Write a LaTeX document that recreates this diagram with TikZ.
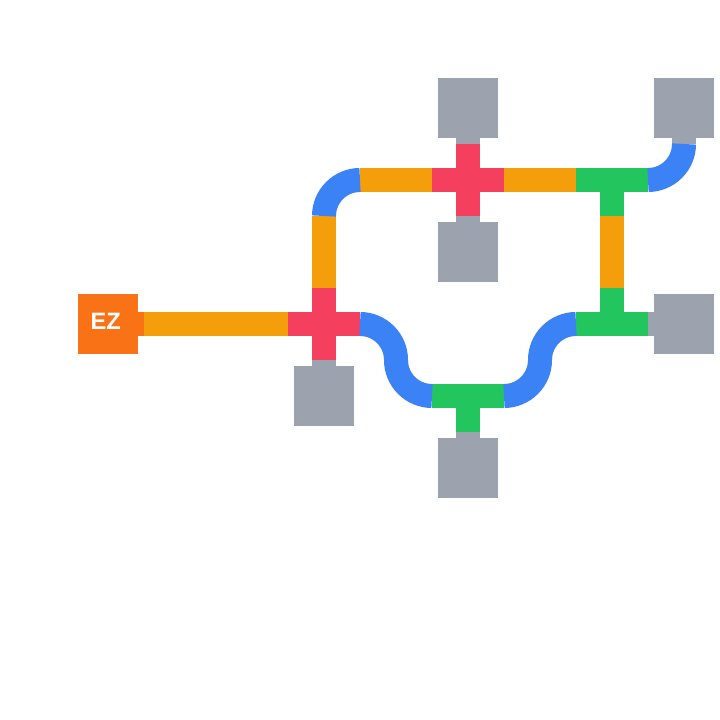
\documentclass[tikz,border=0pt]{standalone}
\usepackage{fontspec}
\newfontfamily\ezfont{Liberation Sans}
\definecolor{pipeor}{HTML}{F59E0B}
\definecolor{pipered}{HTML}{F43F5E}
\definecolor{pipeblue}{HTML}{3B82F6}
\definecolor{pipegreen}{HTML}{22C55E}
\definecolor{tilegrey}{HTML}{9CA3AF}
\definecolor{srcor}{HTML}{F97316}
\begin{document}
\begin{tikzpicture}[x=1pt,y=1pt,
  pipe/.style={line width=24pt,line cap=butt},
  op/.style={pipe,draw=pipeor},
  rp/.style={pipe,draw=pipered},
  bp/.style={pipe,draw=pipeblue},
  gp/.style={pipe,draw=pipegreen},
  sink/.style={fill=tilegrey,draw=none,minimum size=60pt,inner sep=0pt,outer sep=0pt},
  stub/.style={line width=24pt,line cap=butt,draw=tilegrey},
  src/.style={fill=srcor,draw=none,minimum size=60pt,inner sep=0pt,outer sep=0pt},
  srclabel/.style={text=white,inner sep=0pt,font=\ezfont\fontsize{23.7}{26}\selectfont\bfseries}]
\useasboundingbox (0,0) rectangle (720,720);
\fill[white] (0,0) rectangle (720,720);
% source
\node[src] (ez) at (108,396) {};
\node[srclabel] (ezl) at (105.8,398.5) {EZ};
\draw[pipe,draw=srcor] (ez.east) -- (144,396);
% sinks
\node[sink] (g1) at (324,324) {};
\node[sink] (g2) at (468,612) {};
\node[sink] (g3) at (468,468) {};
\node[sink] (g4) at (468,252) {};
\node[sink] (g5) at (684,612) {};
\node[sink] (g6) at (684,396) {};
\draw[stub] (g1.north) -- (324,360);
\draw[stub] (g2.south) -- (468,576);
\draw[stub] (g3.north) -- (468,504);
\draw[stub] (g4.north) -- (468,288);
\draw[stub] (g5.south) -- (684,576);
\draw[stub] (g6.west) -- (648,396);
% straight pipes
\draw[op] (144,396) -- (288,396);
\draw[op] (324,432) -- (324,504);
\draw[op] (360,540) -- (432,540);
\draw[op] (504,540) -- (576,540);
\draw[op] (612,504) -- (612,432);
% crosses
\draw[rp] (288,396) -- (360,396) (324,360) -- (324,432);
\draw[rp] (432,540) -- (504,540) (468,504) -- (468,576);
% tees
\draw[gp] (576,540) -- (648,540) (612,540) -- (612,504);
\draw[gp] (576,396) -- (648,396) (612,396) -- (612,432);
\draw[gp] (432,324) -- (504,324) (468,324) -- (468,288);
% corners
\draw[bp] (324,504) arc[start angle=180,end angle=90,radius=36pt];
\draw[bp] (648,540) arc[start angle=-90,end angle=0,radius=36pt];
\draw[bp] (576,396) arc[start angle=90,end angle=180,radius=36pt]
                    arc[start angle=0,end angle=-90,radius=36pt];
\draw[bp] (432,324) arc[start angle=270,end angle=180,radius=36pt]
                    arc[start angle=0,end angle=90,radius=36pt];
\end{tikzpicture}
\end{document}
